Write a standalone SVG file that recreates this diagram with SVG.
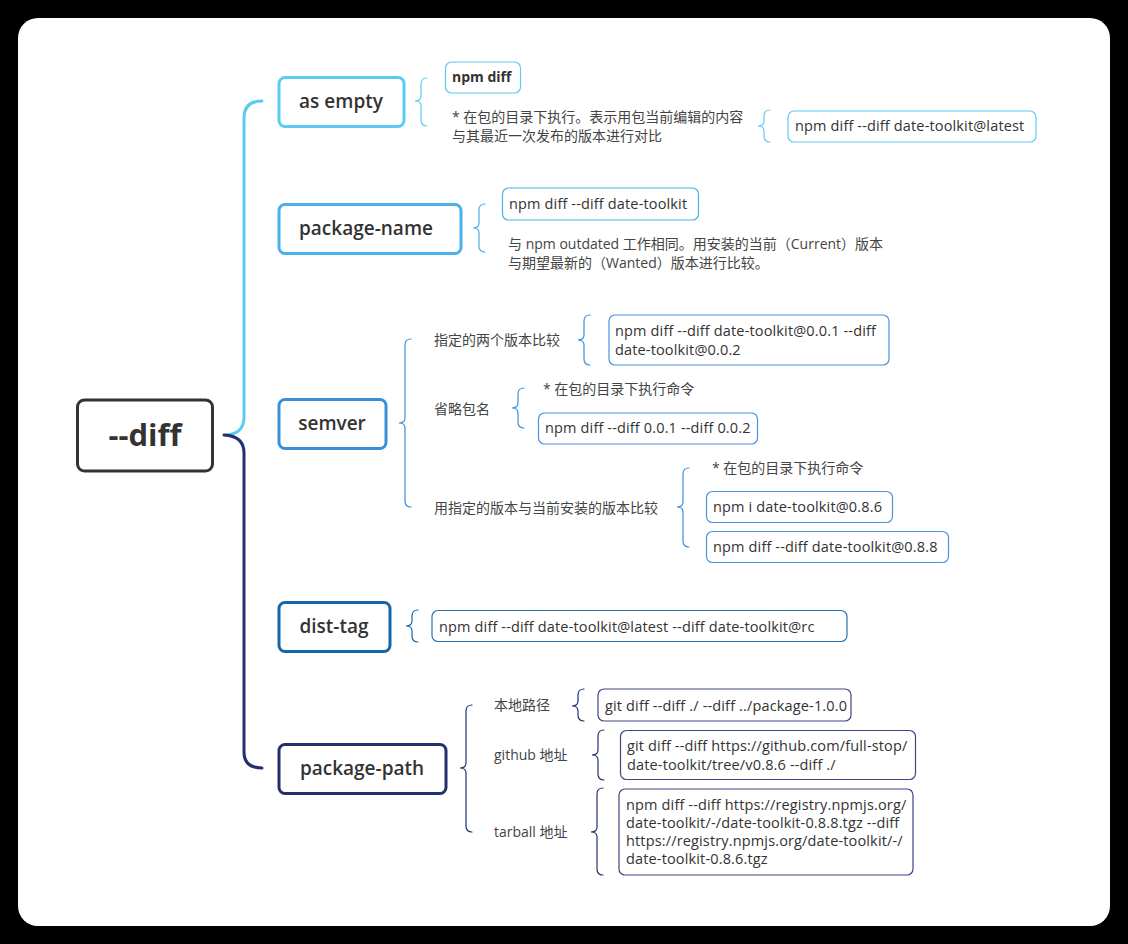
<svg xmlns="http://www.w3.org/2000/svg" width="1128" height="944" viewBox="0 0 1128 944">
  <defs>
    <style>
      .t { font-family: "Open Sans", "Noto Sans CJK SC", sans-serif; fill: #333333; }
      .head { font-size: 19px; font-weight: 600; text-anchor: middle; }
      .root { font-size: 31px; font-weight: 700; text-anchor: middle; }
      .cmd { font-size: 14.5px; letter-spacing: 0.15px; }
      .note { font-size: 14px; fill: #444444; }
      .bold { font-size: 14px; font-weight: 700; }
      .brace { fill: none; stroke-width: 1.2; stroke-linecap: round; }
      .box1 { fill: #ffffff; stroke-width: 3; }
      .box2 { fill: #ffffff; stroke-width: 1.2; }
    </style>
  </defs>

  <!-- canvas -->
  <rect x="0" y="0" width="1128" height="944" fill="#000000"/>
  <rect x="18" y="18" width="1092" height="908" rx="20" fill="#ffffff"/>

  <!-- trunk connectors from the root -->
  <g id="connectors" fill="none" stroke-width="3" stroke-linecap="round">
    <path d="M 226 435 Q 244 434 244 417 L 244 118 Q 244 101 262 101" stroke="#5ccbf0"/>
    <path d="M 224 435 Q 244 436 244 453 L 244 752 Q 244 768 262 768" stroke="#233070"/>
  </g>

  <!-- root -->
  <g id="root">
    <rect x="77.5" y="400" width="135" height="71" rx="7" fill="#ffffff" stroke="#333333" stroke-width="3"/>
    <text class="t root" x="145" y="446">--diff</text>
  </g>

  <!-- as empty -->
  <g id="as-empty">
    <rect class="box1" x="279" y="77.5" width="125" height="49" rx="6" stroke="#5ccbf0"/>
    <text class="t head" x="341" y="108">as empty</text>
    <path class="brace" stroke="#5ccbf0" d="M 427 78 Q 421 78 421 84 L 421 96 Q 421 101 415 101 Q 421 101 421 106 L 421 120 Q 421 126 427 126"/>
    <rect class="box2" x="445.5" y="62" width="75" height="31" rx="6" stroke="#5ccbf0"/>
    <text class="t bold" x="452" y="82">npm diff</text>
    <text class="t note" x="452" y="122">* 在包的目录下执行。表示用包当前编辑的内容</text>
    <text class="t note" x="452" y="141">与其最近一次发布的版本进行对比</text>
    <path class="brace" stroke="#5ccbf0" d="M 770 110 Q 764 110 764 116 L 764 121 Q 764 126 758 126 Q 764 126 764 131 L 764 136 Q 764 142 770 142"/>
    <rect class="box2" x="788" y="111" width="248" height="31" rx="6" stroke="#5ccbf0"/>
    <text class="t cmd" x="795" y="131">npm diff --diff date-toolkit@latest</text>
  </g>

  <!-- package-name -->
  <g id="package-name">
    <rect class="box1" x="279" y="204.5" width="182" height="49" rx="6" stroke="#4ab0e8"/>
    <text class="t head" x="366" y="235">package-name</text>
    <path class="brace" stroke="#4ab0e8" d="M 485 204 Q 479 204 479 210 L 479 223 Q 479 228 473 228 Q 479 228 479 233 L 479 246 Q 479 252 485 252"/>
    <rect class="box2" x="502.5" y="188" width="196" height="32" rx="6" stroke="#4ab0e8"/>
    <text class="t cmd" x="509" y="209">npm diff --diff date-toolkit</text>
    <text class="t note" x="508" y="249">与 npm outdated 工作相同。用安装的当前（Current）版本</text>
    <text class="t note" x="508" y="268">与期望最新的（Wanted）版本进行比较。</text>
  </g>

  <!-- semver -->
  <g id="semver">
    <rect class="box1" x="279" y="399.5" width="107" height="49" rx="6" stroke="#3a8fd8"/>
    <text class="t head" x="332" y="430">semver</text>
    <path class="brace" stroke="#3a8fd8" d="M 411 339 Q 405 339 405 345 L 405 418 Q 405 423 399 423 Q 405 423 405 428 L 405 501 Q 405 507 411 507"/>

    <text class="t note" x="434" y="345">指定的两个版本比较</text>
    <path class="brace" stroke="#3a8fd8" d="M 590 315 Q 584 315 584 321 L 584 335 Q 584 340 578 340 Q 584 340 584 345 L 584 359 Q 584 365 590 365"/>
    <rect class="box2" x="609" y="315" width="280" height="50" rx="6" stroke="#4a94dc"/>
    <text class="t cmd" x="615" y="336">npm diff --diff date-toolkit@0.0.1 --diff</text>
    <text class="t cmd" x="615" y="355">date-toolkit@0.0.2</text>

    <text class="t note" x="434" y="414">省略包名</text>
    <path class="brace" stroke="#3a8fd8" d="M 524 388 Q 518 388 518 394 L 518 403 Q 518 408 512 408 Q 518 408 518 413 L 518 422 Q 518 428 524 428"/>
    <text class="t note" x="543" y="394">* 在包的目录下执行命令</text>
    <rect class="box2" x="538.5" y="413" width="219" height="31" rx="6" stroke="#4a94dc"/>
    <text class="t cmd" x="545" y="433">npm diff --diff 0.0.1 --diff 0.0.2</text>

    <text class="t note" x="434" y="513">用指定的版本与当前安装的版本比较</text>
    <path class="brace" stroke="#3a8fd8" d="M 689 468 Q 683 468 683 474 L 683 502 Q 683 507 677 507 Q 683 507 683 512 L 683 541 Q 683 547 689 547"/>
    <text class="t note" x="712" y="473">* 在包的目录下执行命令</text>
    <rect class="box2" x="706.5" y="491.5" width="186" height="31" rx="6" stroke="#4a94dc"/>
    <text class="t cmd" x="713" y="512">npm i date-toolkit@0.8.6</text>
    <rect class="box2" x="706.5" y="531.5" width="242" height="31" rx="6" stroke="#4a94dc"/>
    <text class="t cmd" x="713" y="552">npm diff --diff date-toolkit@0.8.8</text>
  </g>

  <!-- dist-tag -->
  <g id="dist-tag">
    <rect class="box1" x="279" y="602.5" width="111" height="49" rx="6" stroke="#1766a8"/>
    <text class="t head" x="334" y="633">dist-tag</text>
    <path class="brace" stroke="#1766a8" d="M 418 610 Q 412 610 412 616 L 412 621 Q 412 626 406 626 Q 412 626 412 631 L 412 636 Q 412 642 418 642"/>
    <rect class="box2" x="432" y="610.5" width="415" height="31" rx="6" stroke="#2a74b0"/>
    <text class="t cmd" x="439" y="632">npm diff --diff date-toolkit@latest --diff date-toolkit@rc</text>
  </g>

  <!-- package-path -->
  <g id="package-path">
    <rect class="box1" x="279" y="744.5" width="167" height="49" rx="6" stroke="#233070"/>
    <text class="t head" x="362" y="775">package-path</text>
    <path class="brace" stroke="#233070" d="M 472 705 Q 466 705 466 711 L 466 763 Q 466 768 460 768 Q 466 768 466 773 L 466 826 Q 466 832 472 832"/>

    <text class="t note" x="494" y="710">本地路径</text>
    <path class="brace" stroke="#233070" d="M 584 689 Q 578 689 578 695 L 578 701 Q 578 706 572 706 Q 578 706 578 711 L 578 715 Q 578 721 584 721"/>
    <rect class="box2" x="598" y="689" width="253" height="32" rx="6" stroke="#3c4780"/>
    <text class="t cmd" x="605" y="711">git diff --diff ./ --diff ../package-1.0.0</text>

    <text class="t note" x="494" y="760">github 地址</text>
    <path class="brace" stroke="#233070" d="M 604 730 Q 598 730 598 736 L 598 750 Q 598 755 592 755 Q 598 755 598 760 L 598 774 Q 598 780 604 780"/>
    <rect class="box2" x="620.5" y="730.5" width="295" height="49" rx="6" stroke="#3c4780"/>
    <text class="t cmd" x="627" y="751">git diff --diff https://github.com/full-stop/</text>
    <text class="t cmd" x="627" y="770">date-toolkit/tree/v0.8.6 --diff ./</text>

    <text class="t note" x="494" y="837">tarball 地址</text>
    <path class="brace" stroke="#233070" d="M 603 788 Q 597 788 597 794 L 597 827 Q 597 832 591 832 Q 597 832 597 837 L 597 869 Q 597 875 603 875"/>
    <rect class="box2" x="619" y="789" width="294" height="86" rx="6" stroke="#3c4780"/>
    <text class="t cmd" x="626" y="810">npm diff --diff https://registry.npmjs.org/</text>
    <text class="t cmd" x="626" y="828">date-toolkit/-/date-toolkit-0.8.8.tgz --diff</text>
    <text class="t cmd" x="626" y="846">https://registry.npmjs.org/date-toolkit/-/</text>
    <text class="t cmd" x="626" y="864">date-toolkit-0.8.6.tgz</text>
  </g>
</svg>
